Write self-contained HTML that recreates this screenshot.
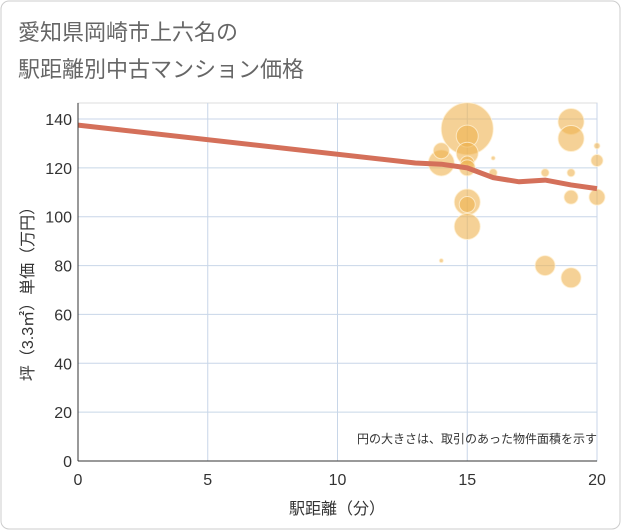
<!DOCTYPE html>
<html><head><meta charset="utf-8"><style>
body{margin:0;background:#fff;font-family:"Liberation Sans","Noto Sans CJK JP",sans-serif}
#wrap{position:relative;width:621px;height:530px;overflow:hidden}
</style></head><body>
<div id="wrap">
<svg id="svg" width="621" height="530" xmlns="http://www.w3.org/2000/svg" style="font-family:'Liberation Sans','Noto Sans CJK JP',sans-serif">
<rect x="1" y="1" width="619" height="528" rx="8" fill="#fff" stroke="#ccc"/>
<text x="18" y="40" font-size="22" fill="#666">愛知県岡崎市上六名の</text>
<text x="18" y="77" font-size="22" fill="#666">駅距離別中古マンション価格</text>
<g id="grid"></g>
<g id="bubbles"></g>
<g id="line"></g>
<g id="axes"></g>
<text x="597" y="443" font-size="12" fill="#333" text-anchor="end">円の大きさは、取引のあった物件面積を示す</text>
<text x="337" y="514" font-size="16" fill="#333" text-anchor="middle">駅距離（分）</text>
<text transform="translate(33,290) rotate(-90)" font-size="16" fill="#333" text-anchor="middle">坪（3.3㎡）単価（万円）</text>
</svg>
</div>
<script>
const xTicks=[0,5,10,15,20];
const yTicks=[0,20,40,60,80,100,120,140];
const bubbleX=[15,15,15,15,15,14,14,15,15,15,14,16,16,18,18,19,19,19,19,19,20,20,20];
const bubbleY=[136,133,126,122,120,122,127,106,105,96,82,124,118,118,80,139,132,118,108,75,129,123,108];
const bubbleR=[26,11,11,7,8,13,8,13,8,13,2,2,4,4,10,13,13,4,7,10,3,6,8];
const lineX=[0,13,14,15,16,17,18,19,20];
const lineY=[137.5,122,121.5,120,116,114.3,115,113,111.5];
const X0=78,X1=597,Y0=461,Y1=119;
const xs=v=>X0+(X1-X0)*v/20;
const ys=v=>Y0-(Y0-Y1)*v/140;
const NS="http://www.w3.org/2000/svg";
function mk(t,a,p){const e=document.createElementNS(NS,t);for(const k in a)e.setAttribute(k,a[k]);p.appendChild(e);return e;}
const g=document.getElementById('grid'),ax=document.getElementById('axes');
mk('rect',{x:X0,y:103,width:X1-X0,height:Y0-103,fill:'none',stroke:'#ddd'},g);
yTicks.forEach(v=>{const l=mk('line',{x1:X0,x2:X1,y1:ys(v),y2:ys(v),stroke:'#c8d6e8'},g);

const t=mk('text',{x:X0-6,y:ys(v)+6,'font-size':16,fill:'#333','text-anchor':'end'},ax);t.textContent=v;
});
xTicks.forEach(v=>{const l=mk('line',{x1:xs(v),x2:xs(v),y1:103,y2:Y0,stroke:'#c8d6e8'},g);

const t=mk('text',{x:xs(v),y:Y0+24,'font-size':16,fill:'#333','text-anchor':'middle'},ax);t.textContent=v;
});
mk('line',{x1:X0,x2:X1,y1:Y0,y2:Y0,stroke:'#333'},ax);
mk('line',{x1:X0,x2:X0,y1:103,y2:Y0,stroke:'#333'},ax);
const b=document.getElementById('bubbles');
bubbleX.forEach((v,i)=>{const c=mk('circle',{cx:xs(v),cy:ys(bubbleY[i]),r:bubbleR[i],fill:'rgba(238,178,80,0.6)',stroke:'rgba(255,240,210,0.8)','stroke-width':1},b);
});
const d=lineX.map((v,i)=>(i?'L':'M')+xs(v)+','+ys(lineY[i])).join(' ');
const p=mk('path',{d:d,fill:'none',stroke:'#d4705a','stroke-width':5,'stroke-linejoin':'round'},document.getElementById('line'));

</script>
</body></html>
